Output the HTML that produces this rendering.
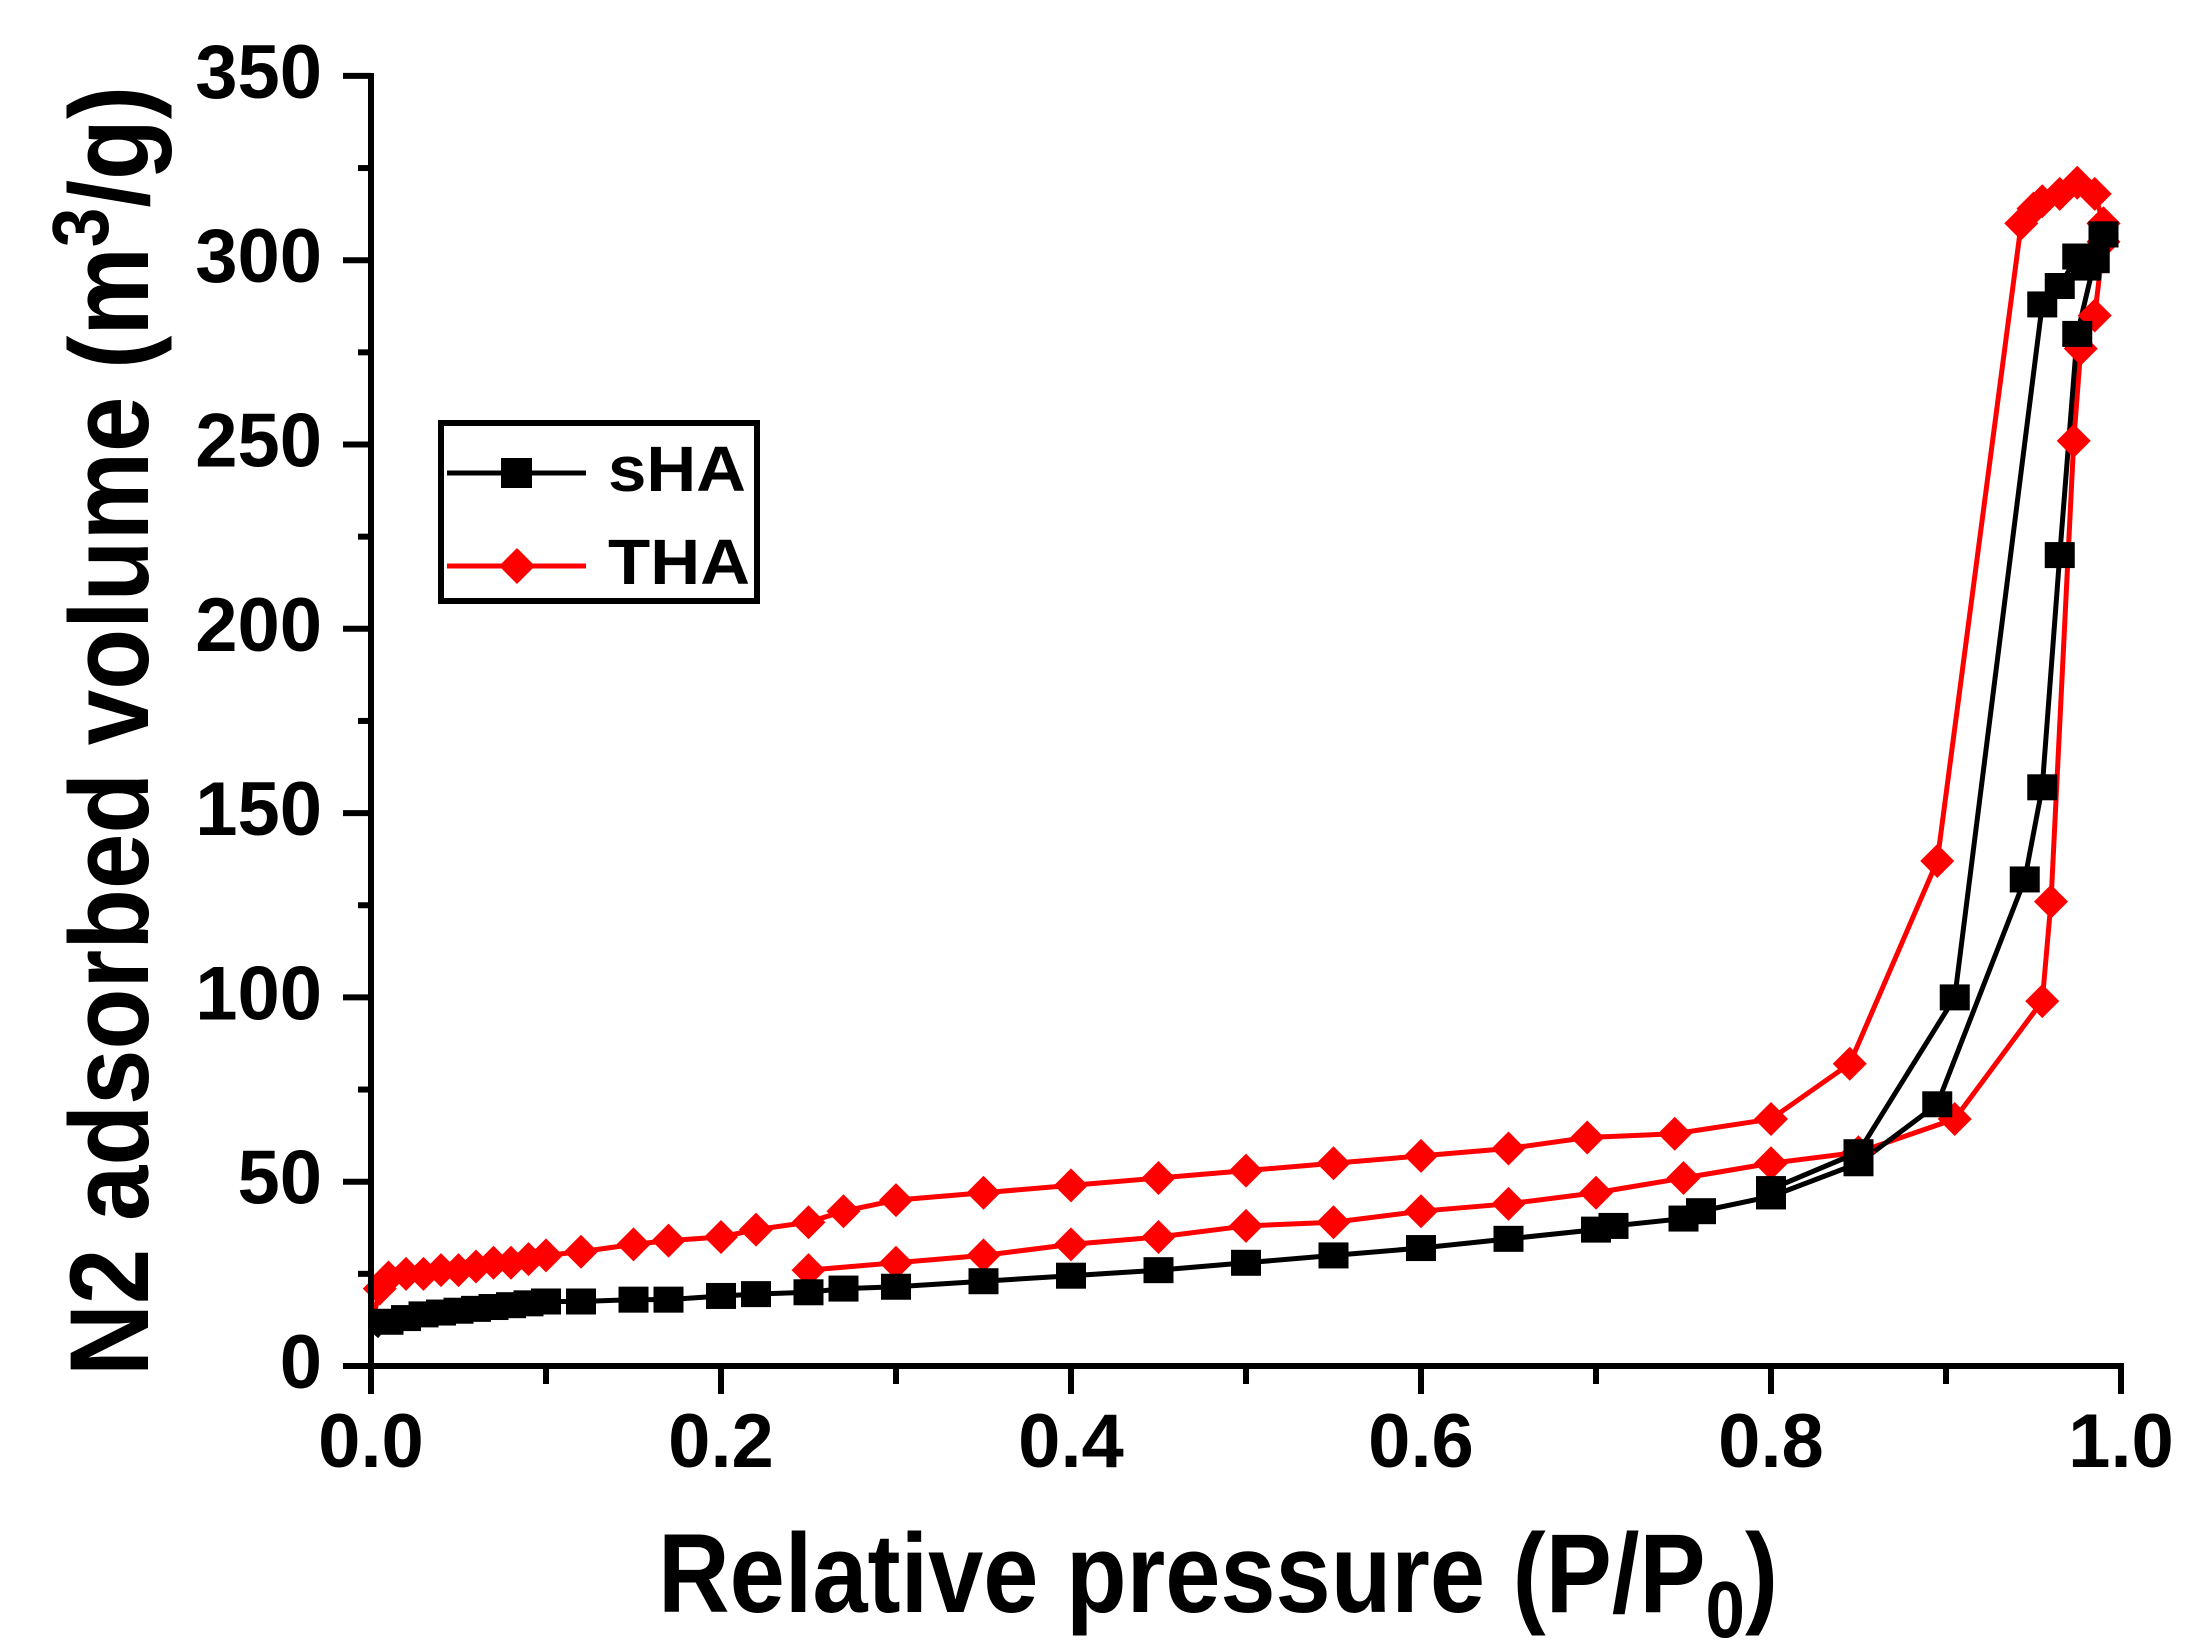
<!DOCTYPE html>
<html><head><meta charset="utf-8"><style>html,body{margin:0;padding:0;background:#fff}svg{display:block}</style></head>
<body>
<svg id="s" width="2196" height="1652" viewBox="0 0 2196 1652" xmlns="http://www.w3.org/2000/svg" font-family="Liberation Sans, Arial, sans-serif" font-weight="bold">
<rect width="2196" height="1652" fill="#fff"/>
<g id="plot"></g>
<line x1="371" y1="73" x2="371" y2="1369" stroke="#000" stroke-width="6"/>
<line x1="368" y1="1366" x2="2124" y2="1366" stroke="#000" stroke-width="6"/>
<g id="ticks" stroke="#000" stroke-width="6"></g>
<g id="labels" font-size="76" fill="#000"></g>
<text x="0" y="0" font-size="112" transform="translate(148,1376) rotate(-90)" textLength="1290" lengthAdjust="spacingAndGlyphs">N2 adsorbed volume (m<tspan font-size="80" dy="-40">3</tspan><tspan dy="40">/g)</tspan></text>
<text x="658" y="1612" font-size="112" textLength="1120" lengthAdjust="spacingAndGlyphs">Relative pressure (P/P<tspan font-size="80" dy="25">0</tspan><tspan dy="-25">)</tspan></text>
<rect x="441" y="423" width="316" height="178" fill="#fff" stroke="#000" stroke-width="6"/>
<line x1="447" y1="473" x2="586" y2="473" stroke="#000" stroke-width="5"/>
<rect x="501" y="458" width="31" height="30" fill="#000"/>
<text x="608" y="491" font-size="64" textLength="138" lengthAdjust="spacingAndGlyphs">sHA</text>
<line x1="447" y1="566" x2="586" y2="566" stroke="#f00" stroke-width="5"/>
<polygon points="517,548 535,566 517,584 499,566" fill="#f00"/>
<text x="608" y="584" font-size="64" textLength="142" lengthAdjust="spacingAndGlyphs">THA</text>
</svg>
<script>
var NS="http://www.w3.org/2000/svg";
function X(p){return 371+1750*p}
function Y(v){return 1366-3.686*v}
function el(t,a,parent){var e=document.createElementNS(NS,t);for(var k in a)e.setAttribute(k,a[k]);parent.appendChild(e);return e}
var ticks=document.getElementById('ticks'),labels=document.getElementById('labels'),plot=document.getElementById('plot');
for(var v=0;v<=350;v+=25){var maj=v%50==0;var y=Y(v);el('line',{x1:maj?343:358,y1:y,x2:371,y2:y},ticks);
 if(maj){var t=el('text',{x:322,y:y+22,'text-anchor':'end'},labels);t.textContent=v;}}
for(var i=0;i<=10;i++){var p=i/10,maj=i%2==0,x=X(p);el('line',{x1:x,y1:1366,x2:x,y2:maj?1394:1384},ticks);
 if(maj){var t=el('text',{x:x,y:1467,'text-anchor':'middle'},labels);t.textContent=p.toFixed(1);}}
var sA=[[0.003,8],[0.01,12],[0.02,13],[0.03,14],[0.04,14.5],[0.05,15],[0.06,15.5],[0.07,16],[0.08,16.5],[0.09,17],[0.1,17.5],[0.12,17.5],[0.15,18],[0.17,18],[0.2,19],[0.22,19.5],[0.25,20],[0.27,21],[0.3,21.5],[0.35,23],[0.4,24.5],[0.45,26],[0.5,28],[0.55,30],[0.6,32],[0.65,34.5],[0.7,37],[0.71,38],[0.75,40],[0.76,42],[0.8,46],[0.85,55],[0.895,71],[0.945,132],[0.955,157],[0.965,220],[0.975,280],[0.985,300],[0.99,307]];
var sD=[[0.99,307],[0.98,298],[0.975,301],[0.965,293],[0.955,288],[0.905,100],[0.85,58],[0.8,48]];
var tA=[[0.25,26],[0.3,28],[0.35,30],[0.4,33],[0.45,35],[0.5,38],[0.55,39],[0.6,42],[0.65,44],[0.7,47],[0.75,51],[0.8,55],[0.85,58],[0.905,67],[0.955,99],[0.96,126],[0.973,251],[0.977,276],[0.985,285],[0.99,305],[0.99,310]];
var tD=[[0.99,310],[0.985,318],[0.975,321],[0.965,318],[0.955,316],[0.95,314],[0.943,310],[0.895,137],[0.845,82],[0.8,67],[0.745,63],[0.695,62],[0.65,59],[0.6,57],[0.55,55],[0.5,53],[0.45,51],[0.4,49],[0.35,47],[0.3,45],[0.27,42],[0.25,39],[0.22,37],[0.2,35],[0.17,34],[0.15,33],[0.12,31],[0.1,30],[0.09,29],[0.08,28],[0.07,28],[0.06,27],[0.05,26],[0.04,26],[0.03,25],[0.02,25],[0.01,24],[0.005,21],[0.0,10]];
function line(d,c){el('polyline',{points:d.map(function(q){return X(q[0])+','+Y(q[1])}).join(' '),fill:'none',stroke:c,'stroke-width':5},plot)}
line(tA,'#f00');line(tD,'#f00');line(sA,'#000');line(sD,'#000');
function sq(d){d.forEach(function(q){el('rect',{x:X(q[0])-15,y:Y(q[1])-13,width:30,height:26,fill:'#000'},plot)})}
function dm(d){d.forEach(function(q){var x=X(q[0]),y=Y(q[1]);el('polygon',{points:(x)+','+(y-17)+' '+(x+17)+','+y+' '+x+','+(y+17)+' '+(x-17)+','+y,fill:'#f00'},plot)})}
dm(tA);dm(tD.slice(0,-1));sq(sA.slice(1));sq(sD);
</script>
</body></html>
